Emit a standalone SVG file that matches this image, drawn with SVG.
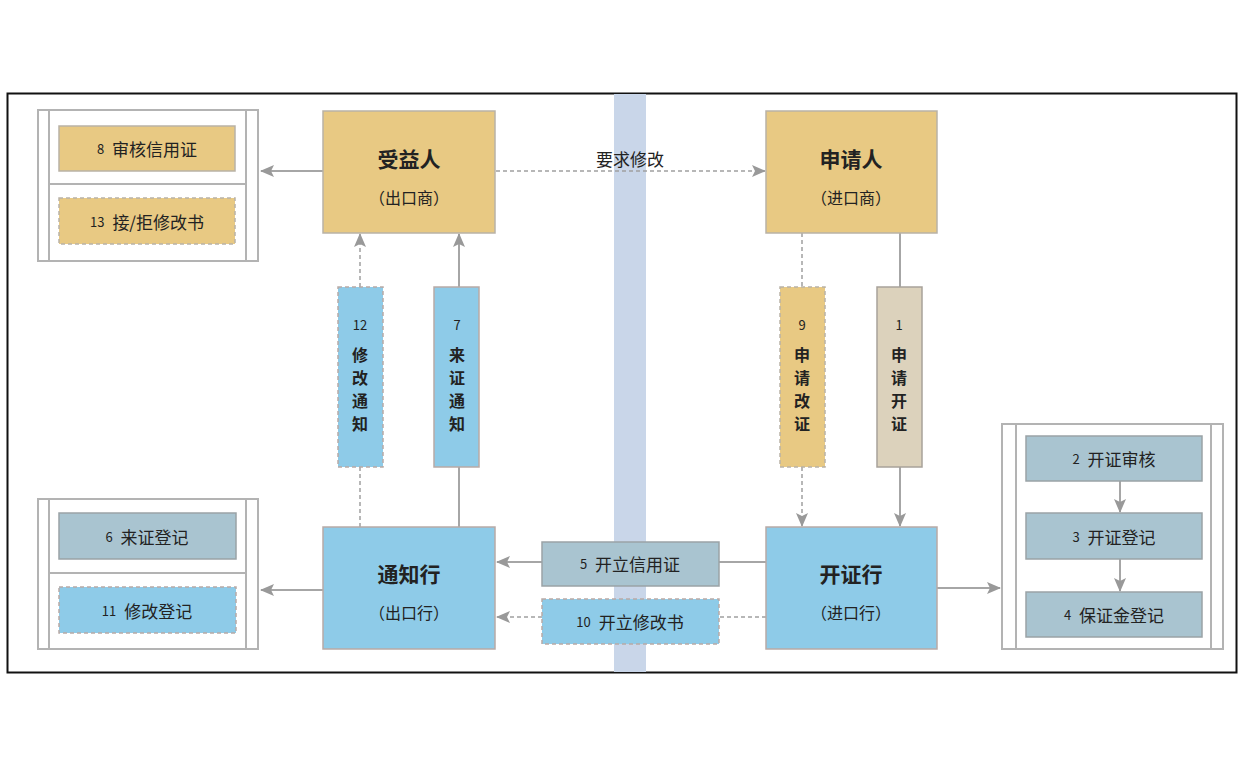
<svg xmlns="http://www.w3.org/2000/svg" width="1242" height="768" viewBox="0 0 1242 768">
<style>
text{font-family:"Noto Sans CJK SC","Liberation Sans",sans-serif;fill:#222;text-anchor:middle;dominant-baseline:central}
.big{font-size:21px;font-weight:bold}
.sub{font-size:16px}
.lbl{font-size:17px}
.num{font-size:13px}
.vt{font-size:16px;font-weight:bold}
.tan{fill:#e8c983;stroke:#b9b2a6;stroke-width:1.5}
.blue{fill:#8ecbe8;stroke:#b8aaa6;stroke-width:1.5}
.gb{fill:#a9c4d0;stroke:#9aa3a6;stroke-width:1.5}
.beige{fill:#dcd2bc;stroke:#a8a29a;stroke-width:1.5}
.dash{stroke-dasharray:4 3}
.ctr{fill:#fff;stroke:#b3b3b3;stroke-width:2}
.cl{stroke:#b3b3b3;stroke-width:2;fill:none}
.ln{stroke:#a6a6a6;stroke-width:2;fill:none}
.dl{stroke:#a0a0a0;stroke-width:1.5;fill:none;stroke-dasharray:4 3}
</style>
<defs>
<marker id="ah" markerWidth="14" markerHeight="12" refX="13" refY="6" orient="auto" markerUnits="userSpaceOnUse">
<path d="M0,0 L14,6 L0,12 L3,6 Z" fill="#999"/>
</marker>
</defs>
<rect x="0" y="0" width="1242" height="768" fill="#fff"/>
<rect x="7.5" y="93.5" width="1229" height="579" fill="#fff" stroke="#111" stroke-width="2"/>
<rect x="614" y="94" width="32" height="578" fill="#c9d6e9"/>

<g id="container-beneficiary">
<rect class="ctr" x="38" y="110" width="220" height="151"/>
<line class="cl" x1="49" y1="110" x2="49" y2="261"/>
<line class="cl" x1="246" y1="110" x2="246" y2="261"/>
<line class="cl" x1="49" y1="184" x2="246" y2="184"/>
</g>
<g id="container-advising">
<rect class="ctr" x="38" y="499" width="220" height="150"/>
<line class="cl" x1="49" y1="499" x2="49" y2="649"/>
<line class="cl" x1="246" y1="499" x2="246" y2="649"/>
<line class="cl" x1="49" y1="573" x2="246" y2="573"/>
</g>
<g id="container-issuing">
<rect class="ctr" x="1002" y="424" width="221" height="225"/>
<line class="cl" x1="1016" y1="424" x2="1016" y2="649"/>
<line class="cl" x1="1211" y1="424" x2="1211" y2="649"/>
</g>

<g id="connectors">
<line class="ln" x1="323" y1="171" x2="261" y2="171" marker-end="url(#ah)"/>
<line class="dl" x1="496" y1="171" x2="765" y2="171" marker-end="url(#ah)"/>
<line class="dl" x1="360" y1="527" x2="360" y2="467"/>
<line class="dl" x1="360" y1="287" x2="360" y2="234" marker-end="url(#ah)"/>
<line class="ln" x1="459" y1="527" x2="459" y2="467"/>
<line class="ln" x1="459" y1="287" x2="459" y2="234" marker-end="url(#ah)"/>
<line class="dl" x1="802" y1="233" x2="802" y2="287"/>
<line class="dl" x1="802" y1="467" x2="802" y2="526" marker-end="url(#ah)"/>
<line class="ln" x1="900" y1="233" x2="900" y2="287"/>
<line class="ln" x1="900" y1="467" x2="900" y2="526" marker-end="url(#ah)"/>
<line class="ln" x1="766" y1="562" x2="719" y2="562"/>
<line class="ln" x1="542" y1="562" x2="497" y2="562" marker-end="url(#ah)"/>
<line class="dl" x1="766" y1="617" x2="719" y2="617"/>
<line class="dl" x1="542" y1="617" x2="497" y2="617" marker-end="url(#ah)"/>
<line class="ln" x1="323" y1="590" x2="261" y2="590" marker-end="url(#ah)"/>
<line class="ln" x1="937" y1="588" x2="1000" y2="588" marker-end="url(#ah)"/>
<line class="ln" x1="1120" y1="481" x2="1120" y2="512" marker-end="url(#ah)"/>
<line class="ln" x1="1120" y1="559" x2="1120" y2="591" marker-end="url(#ah)"/>
</g>

<g id="n8"><rect class="tan" x="59" y="126" width="176" height="45"/><text x="147" y="148"><tspan class="num">8</tspan><tspan class="lbl" dx="8">审核信用证</tspan></text></g>
<g id="n13"><rect class="tan dash" x="59" y="198" width="176" height="46"/><text x="147" y="221"><tspan class="num">13</tspan><tspan class="lbl" dx="8">接/拒修改书</tspan></text></g>

<g id="beneficiary"><rect class="tan" x="323" y="111" width="172" height="122"/><text class="big" x="409" y="158">受益人</text><text class="sub" x="409" y="197">（出口商）</text></g>
<g id="applicant"><rect class="tan" x="766" y="111" width="171" height="122"/><text class="big" x="851" y="158">申请人</text><text class="sub" x="851" y="197">（进口商）</text></g>
<text x="630" y="158" class="lbl">要求修改</text>

<g id="n12"><rect class="blue dash" x="338" y="287" width="45" height="180"/>
<text class="num" x="360" y="324">12</text>
<text class="vt" x="360" y="354">修</text><text class="vt" x="360" y="377">改</text><text class="vt" x="360" y="400">通</text><text class="vt" x="360" y="423">知</text></g>
<g id="n7"><rect class="blue" x="434" y="287" width="45" height="180"/>
<text class="num" x="457" y="324">7</text>
<text class="vt" x="457" y="354">来</text><text class="vt" x="457" y="377">证</text><text class="vt" x="457" y="400">通</text><text class="vt" x="457" y="423">知</text></g>
<g id="n9"><rect class="tan dash" x="780" y="287" width="45" height="180"/>
<text class="num" x="802" y="324">9</text>
<text class="vt" x="802" y="354">申</text><text class="vt" x="802" y="377">请</text><text class="vt" x="802" y="400">改</text><text class="vt" x="802" y="423">证</text></g>
<g id="n1"><rect class="beige" x="877" y="287" width="45" height="180"/>
<text class="num" x="899" y="324">1</text>
<text class="vt" x="899" y="354">申</text><text class="vt" x="899" y="377">请</text><text class="vt" x="899" y="400">开</text><text class="vt" x="899" y="423">证</text></g>

<g id="n6"><rect class="gb" x="59" y="513" width="177" height="46"/><text x="147" y="536"><tspan class="num">6</tspan><tspan class="lbl" dx="8">来证登记</tspan></text></g>
<g id="n11"><rect class="blue dash" x="59" y="587" width="177" height="46"/><text x="147" y="610"><tspan class="num">11</tspan><tspan class="lbl" dx="8">修改登记</tspan></text></g>

<g id="advising"><rect class="blue" x="323" y="527" width="172" height="122"/><text class="big" x="409" y="573">通知行</text><text class="sub" x="409" y="612">（出口行）</text></g>
<g id="issuing"><rect class="blue" x="766" y="527" width="171" height="122"/><text class="big" x="851" y="573">开证行</text><text class="sub" x="851" y="612">（进口行）</text></g>

<g id="n5"><rect class="gb" x="542" y="542" width="177" height="44"/><text x="630" y="563"><tspan class="num">5</tspan><tspan class="lbl" dx="8">开立信用证</tspan></text></g>
<g id="n10"><rect class="blue dash" x="542" y="599" width="177" height="45"/><text x="630" y="621"><tspan class="num">10</tspan><tspan class="lbl" dx="8">开立修改书</tspan></text></g>

<g id="n2"><rect class="gb" x="1026" y="436" width="176" height="45"/><text x="1114" y="458"><tspan class="num">2</tspan><tspan class="lbl" dx="8">开证审核</tspan></text></g>
<g id="n3"><rect class="gb" x="1026" y="513" width="176" height="46"/><text x="1114" y="536"><tspan class="num">3</tspan><tspan class="lbl" dx="8">开证登记</tspan></text></g>
<g id="n4"><rect class="gb" x="1026" y="592" width="176" height="45"/><text x="1114" y="614"><tspan class="num">4</tspan><tspan class="lbl" dx="8">保证金登记</tspan></text></g>
</svg>
